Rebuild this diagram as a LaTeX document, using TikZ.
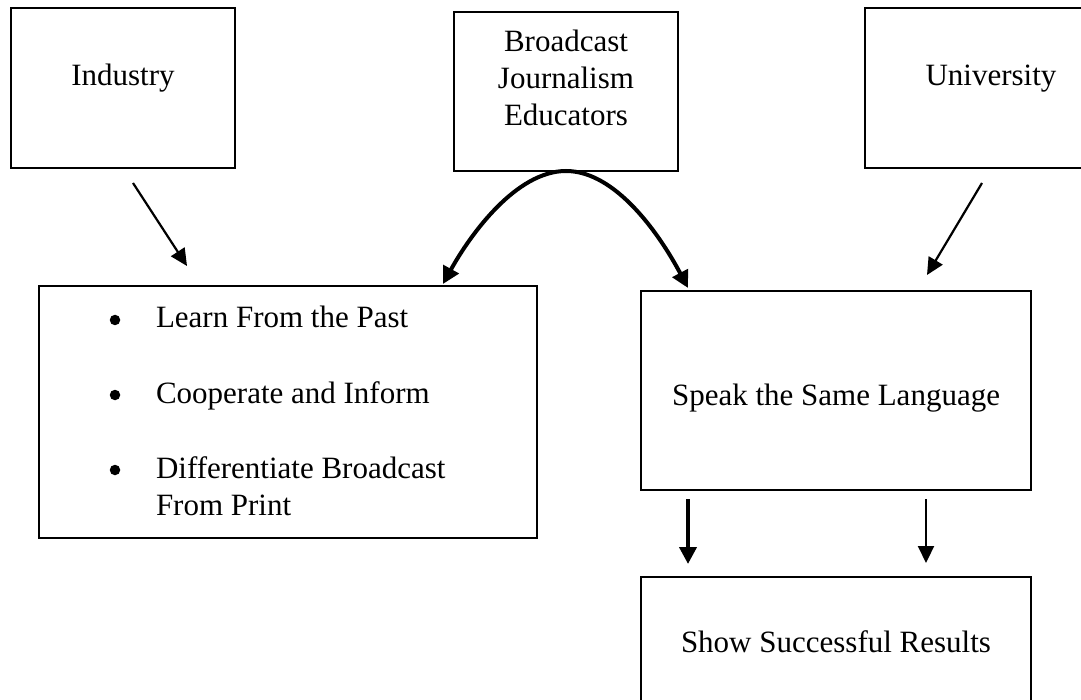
\documentclass[tikz,border=0pt]{standalone}
\usepackage{fontspec}
\setmainfont{Liberation Serif}
\usetikzlibrary{arrows.meta,calc}
\begin{document}
\begin{tikzpicture}[x=1pt,y=-1pt,
  box/.style={draw,line width=1.8pt,inner sep=0pt,outer sep=0pt,rectangle},
  txt/.style={inner sep=0pt,outer sep=0pt,font=\fontsize{31}{37}\selectfont},
  bul/.style={circle,fill,inner sep=0pt,minimum size=10.5pt},
  thinarrow/.style={line width=2.2pt,-{Triangle[length=17pt,width=16pt]}},
  thickarrow/.style={line width=4pt,-{Triangle[length=17pt,width=17pt]}},
]
\useasboundingbox (0,0) rectangle (1081,700);
\clip (0,0) rectangle (1081,700);

% boxes
\node[box,minimum width=224pt,minimum height=160pt] (ind) at (123,88) {};
\node[box,minimum width=224pt,minimum height=159pt] (bje) at (566,91.5) {};
\node[box,minimum width=252pt,minimum height=160pt] (uni) at (991,88) {};
\node[box,minimum width=498pt,minimum height=252pt] (lst) at (288,412) {};
\node[box,minimum width=390pt,minimum height=199pt] (ssl) at (836,390.5) {};
\node[box,minimum width=390pt,minimum height=131pt] (ssr) at (836,642.5) {};

% texts
\node[txt,anchor=base] (indt) at (123,86) {Industry};
\node[txt,anchor=base] (bjet) at (566,52) {\begin{tabular}[t]{@{}c@{}}Broadcast\\Journalism\\Educators\end{tabular}};
\node[txt,anchor=base] (unit) at (991,86) {University};
\node[txt,anchor=base] (sslt) at (836,405) {Speak the Same Language};
\node[txt,anchor=base] (ssrt) at (836,652) {Show Successful Results};

\node[bul] (b1) at (115,320) {};
\node[bul] (b2) at (115,395) {};
\node[bul] (b3) at (115,470) {};
\node[txt,anchor=base west] (i1) at (156,328) {Learn From the Past};
\node[txt,anchor=base west] (i2) at (156,403) {Cooperate and Inform};
\node[txt,anchor=base west] (i3) at (156,478) {\begin{tabular}[t]{@{}l@{}}Differentiate Broadcast\\From Print\end{tabular}};

% straight arrows
\draw[thinarrow] ($(ind.south)+(10,15)$) -- ($(lst.north)+(-101,-20)$);
\draw[thinarrow] ($(uni.south)+(-9,15)$) -- ($(ssl.north)+(91,-16)$);
\draw[thickarrow] ($(ssl.south west)+(47,9)$) -- ($(ssr.north west)+(47,-13)$);
\draw[thinarrow] ($(ssl.south west)+(285,9)$) -- ($(ssr.north west)+(285,-14)$);

% curved arrows
\draw[thickarrow] (bje.south) .. controls ($(bje.south)+(-50,0)$) and ($(lst.north east)+(-67,-51)$) .. ($(lst.north east)+(-94,-2)$);
\draw[thickarrow] (bje.south) .. controls ($(bje.south)+(50,0)$) and ($(ssl.north west)+(19,-56)$) .. ($(ssl.north west)+(47,-3)$);
\end{tikzpicture}
\end{document}
